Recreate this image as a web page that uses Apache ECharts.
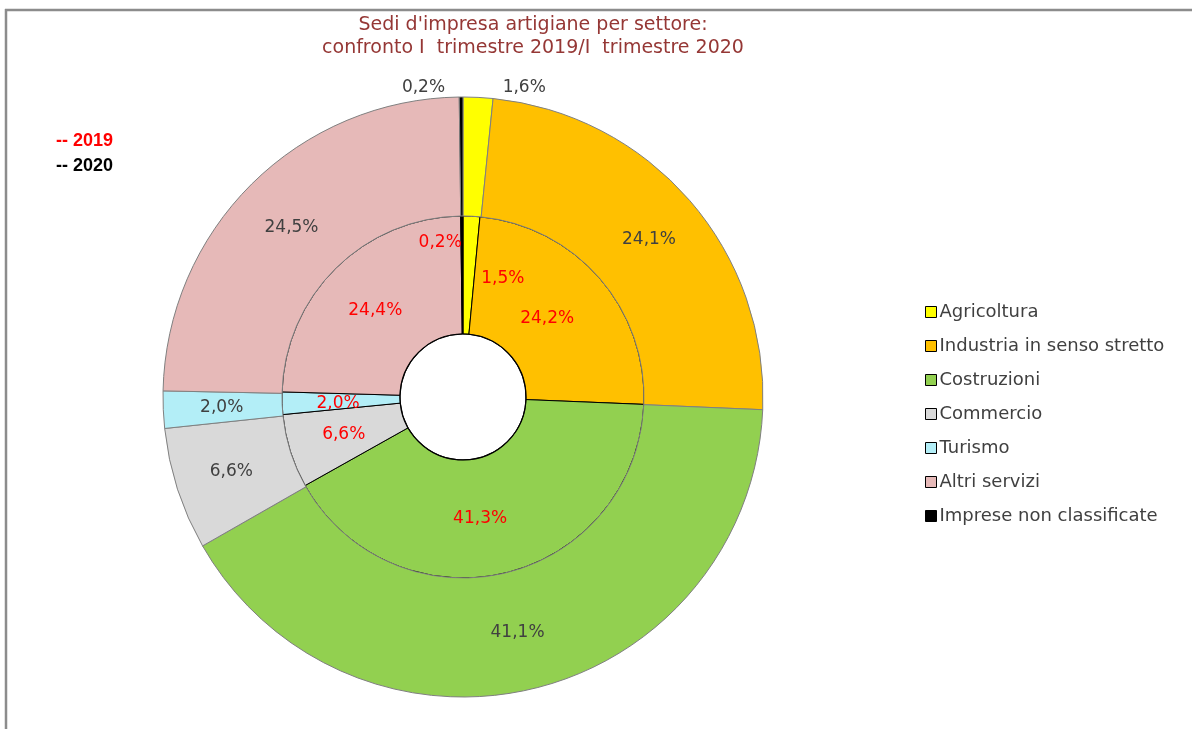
<!DOCTYPE html>
<html>
<head>
<meta charset="utf-8">
<title>Sedi d'impresa artigiane per settore</title>
<script src="https://cdn.jsdelivr.net/npm/echarts@6/dist/echarts.min.js"></script>
<style>
  html, body { margin: 0; padding: 0; background: #fff; }
  #main { width: 1192px; height: 729px; }
</style>
</head>
<body>
<div id="main"></div>
<script>
// settori (ordine orario partendo dalle ore 12)
var settori = ['Agricoltura', 'Industria in senso stretto', 'Costruzioni', 'Commercio', 'Turismo', 'Altri servizi', 'Imprese non classificate'];
var colori = ['#ffff00', '#ffc000', '#92d050', '#d9d9d9', '#b3eef7', '#e6b9b8', '#000000'];
// quote % I trimestre 2019 (anello interno) e I trimestre 2020 (anello esterno)
var quote2019 = [1.5, 24.2, 41.3, 6.6, 2.0, 24.4, 0.2];
var quote2020 = [1.6, 24.1, 41.1, 6.6, 2.0, 24.5, 0.2];

// spostamenti etichette come nel grafico originale
var offset2019 = [[34, 6], [-10, 4], [-12, 0], [0, 0], [0, 2], [0, 3], [-22, -29]];
var offset2020 = [[49, -66], [2, 2], [-3, -1], [0, 0], [2, 0], [0, 3], [-38, -66]];

function perc(v) {
  return v.toFixed(1).replace('.', ',') + '%';
}

function buildData(valori, offsets) {
  return valori.map(function (v, i) {
    return {
      name: settori[i],
      value: v,
      itemStyle: { color: colori[i] },
      label: { offset: offsets[i] }
    };
  });
}

var myChart = echarts.init(document.getElementById('main'));
var fontBase = 'DejaVu Sans';

var option = {
  animation: false,
  backgroundColor: '#ffffff',
  title: {
    text: "Sedi d'impresa artigiane per settore:\nconfronto I  trimestre 2019/I  trimestre 2020",
    left: 528,
    top: 9,
    textAlign: 'center',
    textStyle: {
      fontFamily: fontBase,
      fontSize: 19,
      fontWeight: 'normal',
      color: '#953735',
      lineHeight: 23
    }
  },
  legend: {
    orient: 'vertical',
    left: 920,
    top: 297,
    icon: 'rect',
    itemWidth: 11,
    itemHeight: 11,
    itemGap: 14,
    data: settori,
    itemStyle: { borderColor: '#000', borderWidth: 1 },
    textStyle: {
      fontFamily: fontBase,
      fontSize: 18,
      color: '#404040',
      lineHeight: 20,
      padding: [0, 0, 0, -2]
    }
  },
  graphic: [
    { type: 'line', shape: { x1: 5, y1: 10, x2: 1192, y2: 10 }, style: { stroke: '#8c8c8c', lineWidth: 2.5 } },
    { type: 'line', shape: { x1: 6, y1: 9, x2: 6, y2: 729 }, style: { stroke: '#8c8c8c', lineWidth: 2.5 } },
    { type: 'text', left: 56, top: 132, style: { text: '-- 2019', fill: '#ff0000', font: 'bold 18px "Liberation Sans"' } },
    { type: 'text', left: 56, top: 157, style: { text: '-- 2020', fill: '#000000', font: 'bold 18px "Liberation Sans"' } },
    { type: 'circle', shape: { cx: 463, cy: 397, r: 63 }, style: { fill: 'none', stroke: '#000', lineWidth: 1.2 }, z: 10 }
  ],
  series: [
    {
      name: 'I trimestre 2019',
      type: 'pie',
      center: [463, 397],
      radius: [63, 181],
      startAngle: 90,
      clockwise: true,
      avoidLabelOverlap: false,
      silent: true,
      itemStyle: { borderColor: '#000', borderWidth: 1 },
      label: {
        show: true,
        position: 'inside',
        fontFamily: fontBase,
        fontSize: 17,
        color: '#ff0000',
        formatter: function (p) { return perc(p.value); }
      },
      labelLine: { show: false },
      data: buildData(quote2019, offset2019)
    },
    {
      name: 'I trimestre 2020',
      type: 'pie',
      center: [463, 397],
      radius: [181, 300],
      startAngle: 90,
      clockwise: true,
      avoidLabelOverlap: false,
      silent: true,
      itemStyle: { borderColor: '#808080', borderWidth: 1 },
      label: {
        show: true,
        position: 'inside',
        fontFamily: fontBase,
        fontSize: 17,
        color: '#404040',
        formatter: function (p) { return perc(p.value); }
      },
      labelLine: { show: false },
      data: buildData(quote2020, offset2020)
    }
  ]
};

myChart.setOption(option);
</script>
</body>
</html>
